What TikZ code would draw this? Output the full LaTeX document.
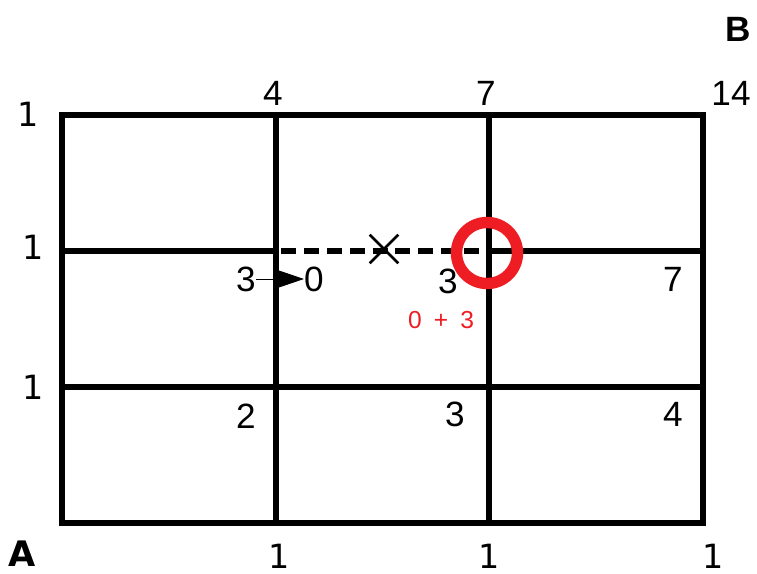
\documentclass[tikz,border=0pt]{standalone}
\usepackage{fontspec}
\setmainfont{Liberation Sans}
\newfontfamily\dvfont{DejaVu Sans}
\usetikzlibrary{arrows.meta, positioning, shapes.misc}
\definecolor{mred}{HTML}{EE1D23}
\tikzset{
  gridline/.style={line width=3.1pt, line cap=rect},
  dashline/.style={line width=3.1pt, dash pattern=on 8.5pt off 4.5pt, dash phase=-3pt},
  num/.style={font=\fontsize{20}{24}\selectfont, inner sep=0pt},
  edgenum/.style={font=\dvfont\fontsize{19}{23}\selectfont, inner sep=0pt},
  corner/.style={font=\bfseries\fontsize{20}{24}\selectfont, inner sep=0pt},
  sumtext/.style={font=\fontsize{14}{17}\selectfont, text=mred, inner sep=0pt},
  marker/.style={circle, draw=mred, line width=6.5pt, minimum size=1.22cm, inner sep=0pt},
  arr/.style={-{Triangle[length=17pt, width=11.5pt]}, thin},
}
\begin{document}
\begin{tikzpicture}[x=0.02cm, y=-0.02cm]
  \useasboundingbox (0,0) rectangle (757,574);

  %% Grid points
  \foreach \i/\x in {0/62, 1/276, 2/489, 3/703}
    \foreach \j/\y in {0/115, 1/251, 2/387, 3/523}
      \coordinate (p\i\j) at (\x,\y);

  %% Grid
  \draw[gridline] (p00) rectangle (p33);
  \draw[gridline] (p10) -- (p13);
  \draw[gridline] (p20) -- (p23);
  \draw[gridline] (p02) -- (p32);
  \draw[gridline] (p01) -- (p11);
  \draw[gridline] (p21) -- (p31);
  \draw[dashline] (p11) -- (p21);

  %% Blocked edge and marked point
  \node[cross out, draw, line width=1.5pt, minimum size=0.52cm, inner sep=0pt] (block) at (384,249) {};
  \node[marker] (mark) at (487,253) {};

  %% Border counts
  \node[edgenum] (l0) at (28,114) {1};
  \node[edgenum] (l1) at (33,247) {1};
  \node[edgenum] (l2) at (33,387) {1};
  \node[edgenum] (b1) at (279,556) {1};
  \node[edgenum] (b2) at (489,556) {1};
  \node[edgenum] (b3) at (713,556) {1};
  \node[num] (t1) at (273,93) {4};
  \node[num] (t2) at (486,93) {7};
  \node[num] (t3) at (731,93) {14};

  %% Inner counts
  \node[num] (c11) at (246,279) {3};
  \node[num] (c11z) at (314,279) {0};
  \node[num] (c21) at (448,281) {3};
  \node[num] (c31) at (673,279) {7};
  \node[num] (c12) at (246,416) {2};
  \node[num] (c22) at (455,414) {3};
  \node[num] (c32) at (673,414) {4};
  \node[sumtext] (sum) at (441,320) {0\hspace{3pt} + \hspace{3pt}3};
  \draw[arr] (c11) -- (c11z);

  %% Corners
  \node[corner] (B) at (738,29) {B};
  \node[corner, font=\dvfont\bfseries\fontsize{20}{24}\selectfont] (A) at (22,554) {A};
\end{tikzpicture}
\end{document}
